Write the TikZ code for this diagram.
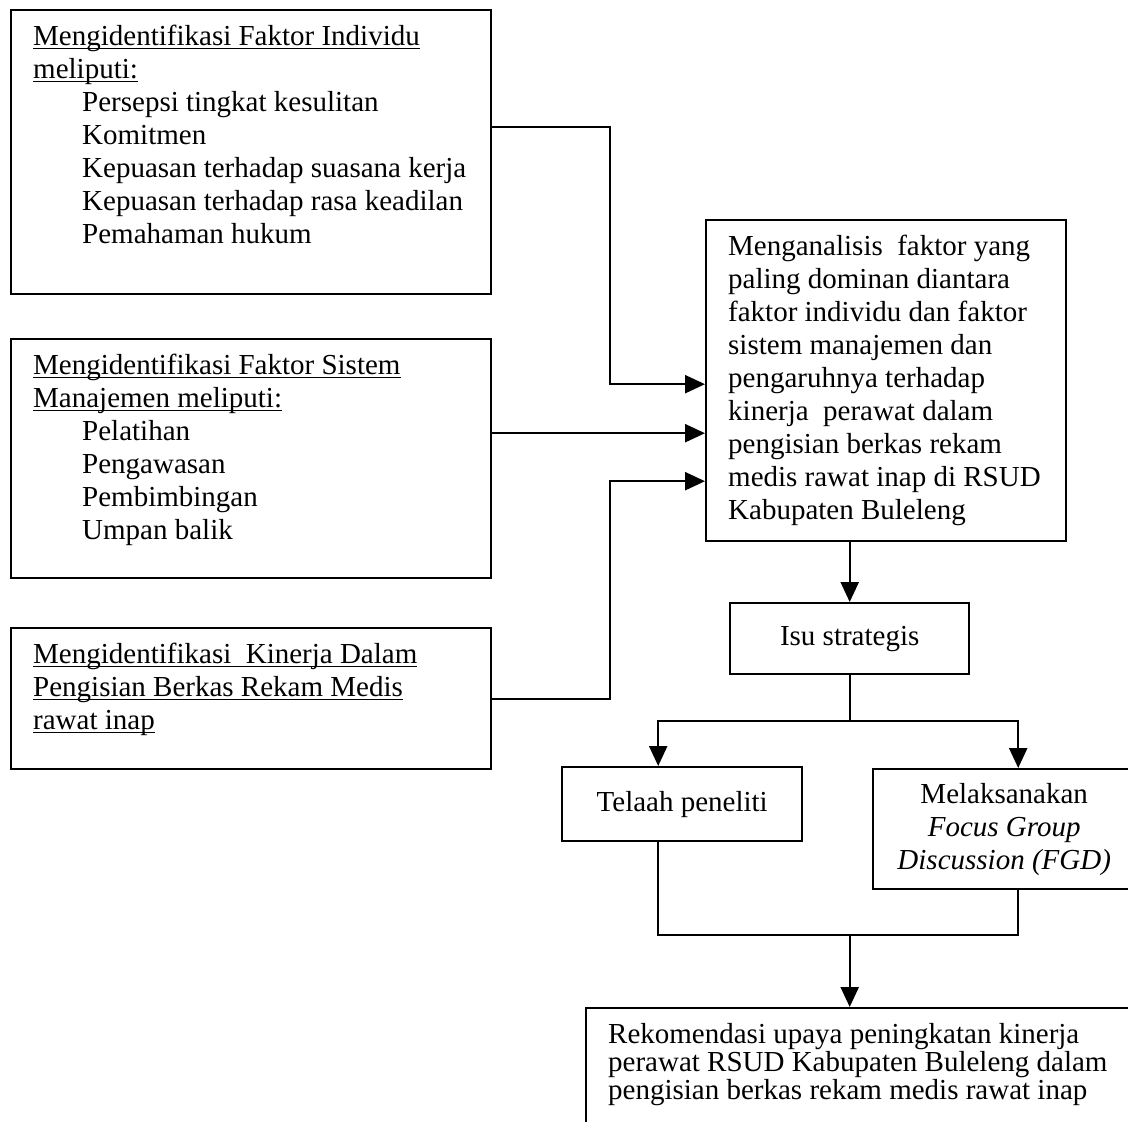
\documentclass[tikz,border=0pt]{standalone}
\usepackage{fontspec}
\setmainfont{Liberation Serif}
\usetikzlibrary{arrows.meta}

\newcommand{\isikotak}[3]{\parbox[c][#2][t]{#1}{\raggedright\leftskip=11pt\rule{0pt}{17.5pt}#3}}
\newcommand{\masuk}{\hspace*{24.5pt}}
\newcommand{\garisbawah}[1]{\leavevmode\sbox0{#1}\rlap{\rule[-2pt]{\wd0}{0.8pt}}\usebox0}

\begin{document}
\begin{tikzpicture}[x=0.5pt, y=-0.5pt,
    kotak/.style={draw, line width=1.2pt, inner sep=0pt, anchor=north west,
        font=\fontsize{14.5}{16.5}\selectfont},
    kotaktengah/.style={draw, line width=1.2pt, inner sep=2pt, align=center,
        anchor=north west, font=\fontsize{14.5}{16.5}\selectfont},
    garis/.style={line width=1.2pt},
    panah/.style={garis, -{Triangle[length=10pt, width=9pt]}}]

    % Bidang gambar
    \useasboundingbox (0,0) rectangle (1128,1122);
    \clip (0,0) rectangle (1128,1122);
    \fill[white] (0,0) rectangle (1128,1122);

    % Kotak identifikasi (kiri)
    \node[kotak] (individu) at (10,9) {\isikotak{240pt}{142pt}{%
        \garisbawah{Mengidentifikasi Faktor Individu}\\
        \garisbawah{meliputi:}\\
        \masuk Persepsi tingkat kesulitan\\
        \masuk Komitmen\\
        \masuk Kepuasan terhadap suasana kerja\\
        \masuk Kepuasan terhadap rasa keadilan\\
        \masuk Pemahaman hukum}};
    \node[kotak] (sistem) at (10,338) {\isikotak{240pt}{119.5pt}{%
        \garisbawah{Mengidentifikasi Faktor Sistem}\\
        \garisbawah{Manajemen meliputi:}\\
        \masuk Pelatihan\\
        \masuk Pengawasan\\
        \masuk Pembimbingan\\
        \masuk Umpan balik}};
    \node[kotak] (kinerja) at (10,627) {\isikotak{240pt}{70.5pt}{%
        \garisbawah{Mengidentifikasi\ \ Kinerja Dalam}\\
        \garisbawah{Pengisian Berkas Rekam Medis}\\
        \garisbawah{rawat inap}}};

    % Kotak analisis
    \node[kotak] (analisis) at (705,219) {\isikotak{180pt}{160.5pt}{%
        Menganalisis\ \ faktor yang\\
        paling dominan diantara\\
        faktor individu dan faktor\\
        sistem manajemen dan\\
        pengaruhnya terhadap\\
        kinerja\ \ perawat dalam\\
        pengisian berkas rekam\\
        medis rawat inap di RSUD\\
        Kabupaten Buleleng}};

    % Isu dan tindak lanjut
    \node[kotaktengah, minimum width=119.5pt, minimum height=35.5pt] (isu) at (729,602) {Isu strategis};
    \node[kotaktengah, minimum width=120pt, minimum height=37pt] (telaah) at (561,766) {Telaah peneliti};
    \node[kotaktengah, minimum width=131pt, minimum height=60pt] (fgd) at (872,768)
        {Melaksanakan\\ \textit{Focus Group}\\ \textit{Discussion (FGD)}};

    % Rekomendasi
    \node[kotak, font=\fontsize{14.5}{14}\selectfont] (rekom) at (585,1007) {\isikotak{277.5pt}{80pt}{%
        Rekomendasi upaya peningkatan kinerja\\
        perawat RSUD Kabupaten Buleleng dalam\\
        pengisian berkas rekam medis rawat inap}};

    % Titik bantu
    \coordinate (jalur) at (610,0);
    \coordinate (tinggicabang) at (0,721);
    \coordinate (tinggigabung) at (0,935);
    \coordinate (masuk1) at ([yshift=-1.75pt]analisis.west);
    \coordinate (masuk2) at ([yshift=-26.25pt]analisis.west);
    \coordinate (masuk3) at ([yshift=-50.25pt]analisis.west);
    \coordinate (cabang) at (isu.south |- tinggicabang);
    \coordinate (gabung) at (isu.south |- tinggigabung);

    % Panah ke analisis
    \draw[panah] ([yshift=12.5pt]individu.east) -| (masuk1 -| jalur) -- (masuk1);
    \draw[panah] (masuk2 -| sistem.east) -- (masuk2);
    \draw[panah] (kinerja.east) -| (masuk3 -| jalur) -- (masuk3);

    % Analisis ke isu strategis
    \draw[panah] (analisis.south -| isu.north) -- (isu.north);

    % Percabangan
    \draw[garis] (isu.south) -- (cabang);
    \draw[panah] (cabang) -| ([xshift=-12pt]telaah.north);
    \draw[panah] (cabang) -| ([xshift=7pt]fgd.north);

    % Penggabungan ke rekomendasi
    \draw[garis] ([xshift=-12pt]telaah.south) |- (gabung) -| ([xshift=7pt]fgd.south);
    \draw[panah] (gabung) -- (gabung |- rekom.north);
\end{tikzpicture}
\end{document}
